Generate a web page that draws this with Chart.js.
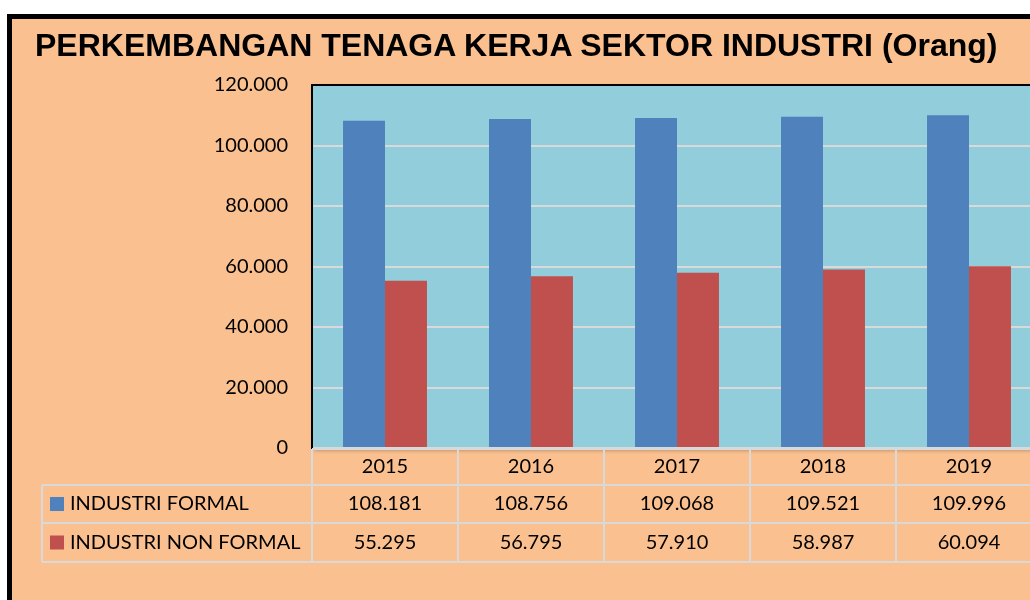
<!DOCTYPE html>
<html lang="id">
<head>
  <meta charset="UTF-8" />
  <title>Perkembangan Tenaga Kerja Sektor Industri</title>
  <script src="https://cdn.jsdelivr.net/npm/chart.js"></script>
  <style>
    html, body { margin: 0; padding: 0; background: #fff; overflow: hidden; width: 1030px; height: 600px; }
    .frame { position: absolute; left: 7px; top: 14px; width: 1100px; height: 700px;
             border: 5px solid #000; background: #FAC090; }
    h1 { position: absolute; left: 35px; top: 29px; margin: 0; z-index: 2;
         font: bold 32px "Liberation Sans", Arial, sans-serif; line-height: 32px; color: #000; white-space: nowrap; }
    canvas { position: absolute; left: 0; top: 0; z-index: 1; }
  </style>
</head>
<body>
  <div class="frame"></div>
  <h1>PERKEMBANGAN TENAGA KERJA SEKTOR INDUSTRI (Orang)</h1>
  <canvas id="chart" width="1060" height="600"></canvas>

  <script>
    const years = ['2015', '2016', '2017', '2018', '2019'];
    const seriesNames = ['INDUSTRI FORMAL', 'INDUSTRI NON FORMAL'];
    const formal = [108181, 108756, 109068, 109521, 109996];
    const nonFormal = [55295, 56795, 57910, 58987, 60094];
    const colors = ['#4F81BD', '#C0504D'];

    const fmt = v => String(v).replace(/\B(?=(\d{3})+(?!\d))/g, '.');
    const FONT = '20px Lato, sans-serif';
    const LINE = '#D9D9D9';

    // plot background, border and shadow
    const plotArea = {
      id: 'plotArea',
      beforeDraw(chart) {
        const { ctx, chartArea: a } = chart;
        ctx.save();
        ctx.shadowColor = 'rgba(0,0,0,0.35)';
        ctx.shadowBlur = 4;
        ctx.shadowOffsetX = 2;
        ctx.shadowOffsetY = 2;
        ctx.fillStyle = '#92CDDC';
        ctx.fillRect(a.left, a.top, a.right - a.left, a.bottom - a.top);
        ctx.restore();
      },
      afterDraw(chart) {
        const { ctx, chartArea: a } = chart;
        ctx.save();
        ctx.strokeStyle = '#000';
        ctx.lineWidth = 2;
        ctx.beginPath();
        ctx.moveTo(a.left - 1, a.top);
        ctx.lineTo(a.right, a.top);
        ctx.stroke();
        ctx.restore();
      }
    };

    // data table under the x axis
    const dataTable = {
      id: 'dataTable',
      afterDraw(chart) {
        const { ctx, chartArea: a } = chart;
        const x = chart.scales.x;
        const step = (a.right - a.left) / years.length;
        const rows = [a.bottom + 1, 485, 523, 562];
        const tableLeft = 42;
        ctx.save();
        ctx.strokeStyle = LINE;
        ctx.lineWidth = 2;
        ctx.beginPath();
        // horizontal lines
        ctx.moveTo(a.left, rows[0]); ctx.lineTo(a.right, rows[0]);
        for (let r = 1; r < rows.length; r++) {
          ctx.moveTo(tableLeft, rows[r]); ctx.lineTo(a.right, rows[r]);
        }
        // vertical lines
        for (let i = 0; i <= years.length; i++) {
          const px = a.left + i * step;
          ctx.moveTo(px, rows[0]); ctx.lineTo(px, rows[3]);
        }
        ctx.moveTo(tableLeft, rows[1]); ctx.lineTo(tableLeft, rows[3]);
        ctx.stroke();

        ctx.font = FONT;
        ctx.fillStyle = '#000';
        ctx.textAlign = 'center';
        ctx.textBaseline = 'middle';
        const series = [formal, nonFormal];
        years.forEach((y, i) => {
          const cx = x.getPixelForValue(i);
          ctx.fillText(y, cx, (rows[0] + rows[1]) / 2);
          series.forEach((s, r) => ctx.fillText(fmt(s[i]), cx, (rows[r + 1] + rows[r + 2]) / 2));
        });

        // legend keys
        ctx.textAlign = 'left';
        seriesNames.forEach((name, r) => {
          const cy = (rows[r + 1] + rows[r + 2]) / 2;
          ctx.fillStyle = colors[r];
          ctx.fillRect(50, cy - 7, 14, 14);
          ctx.fillStyle = '#000';
          ctx.fillText(name, 70, cy);
        });
        ctx.restore();
      }
    };

    new Chart(document.getElementById('chart'), {
      type: 'bar',
      data: {
        labels: years,
        datasets: [
          { label: seriesNames[0], data: formal, backgroundColor: colors[0] },
          { label: seriesNames[1], data: nonFormal, backgroundColor: colors[1] }
        ]
      },
      options: {
        responsive: false,
        animation: false,
        devicePixelRatio: 1,
        layout: { padding: { top: 85, bottom: 152, right: 18, left: 0 } },
        datasets: { bar: { categoryPercentage: 0.575, barPercentage: 1.0 } },
        plugins: { legend: { display: false }, tooltip: { enabled: false } },
        scales: {
          x: {
            ticks: { display: false },
            grid: { display: false },
            border: { display: false },
            afterFit(s) { s.height = 0; }
          },
          y: {
            min: 0,
            max: 120000,
            ticks: {
              stepSize: 20000,
              padding: 24,
              color: '#000',
              font: { family: 'Lato', size: 20 },
              callback: v => fmt(v)
            },
            grid: { color: LINE, lineWidth: 2, drawTicks: false },
            border: { display: true, color: '#000', width: 2 },
            afterFit(s) { s.width = 312; }
          }
        }
      },
      plugins: [plotArea, dataTable]
    });
  </script>
</body>
</html>
